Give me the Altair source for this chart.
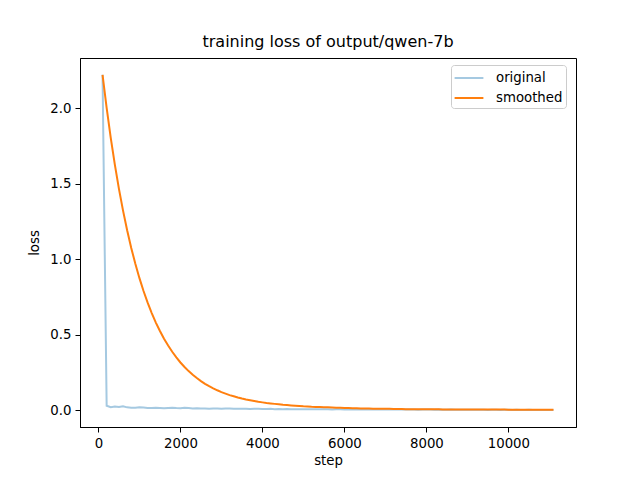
import altair as alt
import pandas as pd

steps = list(range(100, 11200, 100))

original = [
    2.22, 0.030, 0.020, 0.024, 0.021, 0.026, 0.019, 0.017, 0.016, 0.019,
    0.018, 0.015, 0.014, 0.016, 0.015, 0.013, 0.015, 0.017, 0.014, 0.013,
    0.016, 0.014, 0.012, 0.013, 0.011, 0.012, 0.010, 0.012, 0.011, 0.010,
    0.011, 0.012, 0.009, 0.010, 0.009, 0.010, 0.008, 0.009, 0.009, 0.008,
    0.008, 0.009, 0.007, 0.008, 0.007, 0.008, 0.007, 0.007, 0.006, 0.007,
    0.007, 0.006, 0.006, 0.007, 0.006, 0.006, 0.005, 0.006, 0.006, 0.005,
    0.005, 0.006, 0.005, 0.005, 0.005, 0.004, 0.005, 0.005, 0.004, 0.005,
    0.004, 0.004, 0.005, 0.004, 0.004, 0.004, 0.004, 0.003, 0.004, 0.004,
    0.004, 0.003, 0.004, 0.003, 0.003, 0.004, 0.003, 0.003, 0.003, 0.003,
    0.003, 0.003, 0.003, 0.003, 0.002, 0.003, 0.003, 0.002, 0.003, 0.003,
    0.002, 0.003, 0.002, 0.002, 0.003, 0.002, 0.002, 0.002, 0.002, 0.002, 0.002,
]

smoothed = [
    2.220, 2.001, 1.803, 1.625, 1.465, 1.321, 1.191, 1.074, 0.969, 0.874,
    0.789, 0.712, 0.643, 0.580, 0.524, 0.473, 0.428, 0.387, 0.350, 0.316,
    0.286, 0.259, 0.235, 0.213, 0.193, 0.175, 0.159, 0.145, 0.132, 0.120,
    0.110, 0.100, 0.092, 0.084, 0.077, 0.071, 0.066, 0.061, 0.056, 0.052,
    0.048, 0.045, 0.042, 0.039, 0.036, 0.034, 0.032, 0.030, 0.028, 0.026,
    0.025, 0.023, 0.022, 0.021, 0.020, 0.019, 0.018, 0.017, 0.016, 0.015,
    0.014, 0.013, 0.013, 0.012, 0.011, 0.011, 0.010, 0.010, 0.009, 0.009,
    0.009, 0.008, 0.008, 0.008, 0.007, 0.007, 0.007, 0.007, 0.006, 0.006,
    0.006, 0.006, 0.006, 0.005, 0.005, 0.005, 0.005, 0.005, 0.005, 0.005,
    0.004, 0.004, 0.004, 0.004, 0.004, 0.004, 0.004, 0.004, 0.004, 0.003,
    0.003, 0.003, 0.003, 0.003, 0.003, 0.003, 0.003, 0.003, 0.003, 0.003, 0.003,
]

series_names = ["original", "smoothed"]
series_colors = ["#a5c9e1", "#ff7f0e"]
x_ticks = [0, 2000, 4000, 6000, 8000, 10000]
y_ticks = [0.0, 0.5, 1.0, 1.5, 2.0]

df = pd.concat([
    pd.DataFrame({"step": steps, "loss": original, "series": "original", "order": 0}),
    pd.DataFrame({"step": steps, "loss": smoothed, "series": "smoothed", "order": 1}),
])

FONT = "DejaVu Sans"

chart = alt.Chart(df).mark_line(strokeWidth=2).encode(
    x=alt.X("step:Q", title="step",
            scale=alt.Scale(domain=[-450, 11650], nice=False, zero=False),
            axis=alt.Axis(values=x_ticks, format="d", grid=False,
                          tickSize=5, labelPadding=4, titlePadding=4)),
    y=alt.Y("loss:Q", title="loss",
            scale=alt.Scale(domain=[-0.111, 2.331], nice=False, zero=False),
            axis=alt.Axis(values=y_ticks, format=".1f", grid=False,
                          tickSize=5, labelPadding=4, titlePadding=8)),
    color=alt.Color("series:N", title=None,
                    scale=alt.Scale(domain=series_names, range=series_colors),
                    legend=alt.Legend(orient="none", legendX=371, legendY=7,
                                      symbolType="M-1.6,0H1.6", symbolSize=324,
                                      symbolOffset=5, symbolFillColor="transparent",
                                      symbolStrokeWidth=2, labelOffset=17,
                                      padding=3, rowPadding=3,
                                      fillColor="white", strokeColor="#cccccc",
                                      cornerRadius=3, labelFontSize=13.3,
                                      labelFont=FONT, labelColor="black")),
    order=alt.Order("order:Q"),
    detail="series:N",
).properties(
    width=496,
    height=369,
    title=alt.TitleParams("training loss of output/qwen-7b", fontSize=16,
                          font=FONT, fontWeight="normal", offset=8, color="black"),
    autosize=alt.AutoSizeParams(type="none"),
    padding={"left": 80, "top": 58, "right": 64, "bottom": 53},
).configure_view(
    stroke="black", strokeWidth=1
).configure_axis(
    labelFont=FONT, titleFont=FONT, labelFontSize=13.3, titleFontSize=13.3,
    titleFontWeight="normal", labelColor="black", titleColor="black",
    domainColor="black", tickColor="black", domain=True
)

chart.save("out.html", embed_options={"renderer": "svg", "actions": False})
